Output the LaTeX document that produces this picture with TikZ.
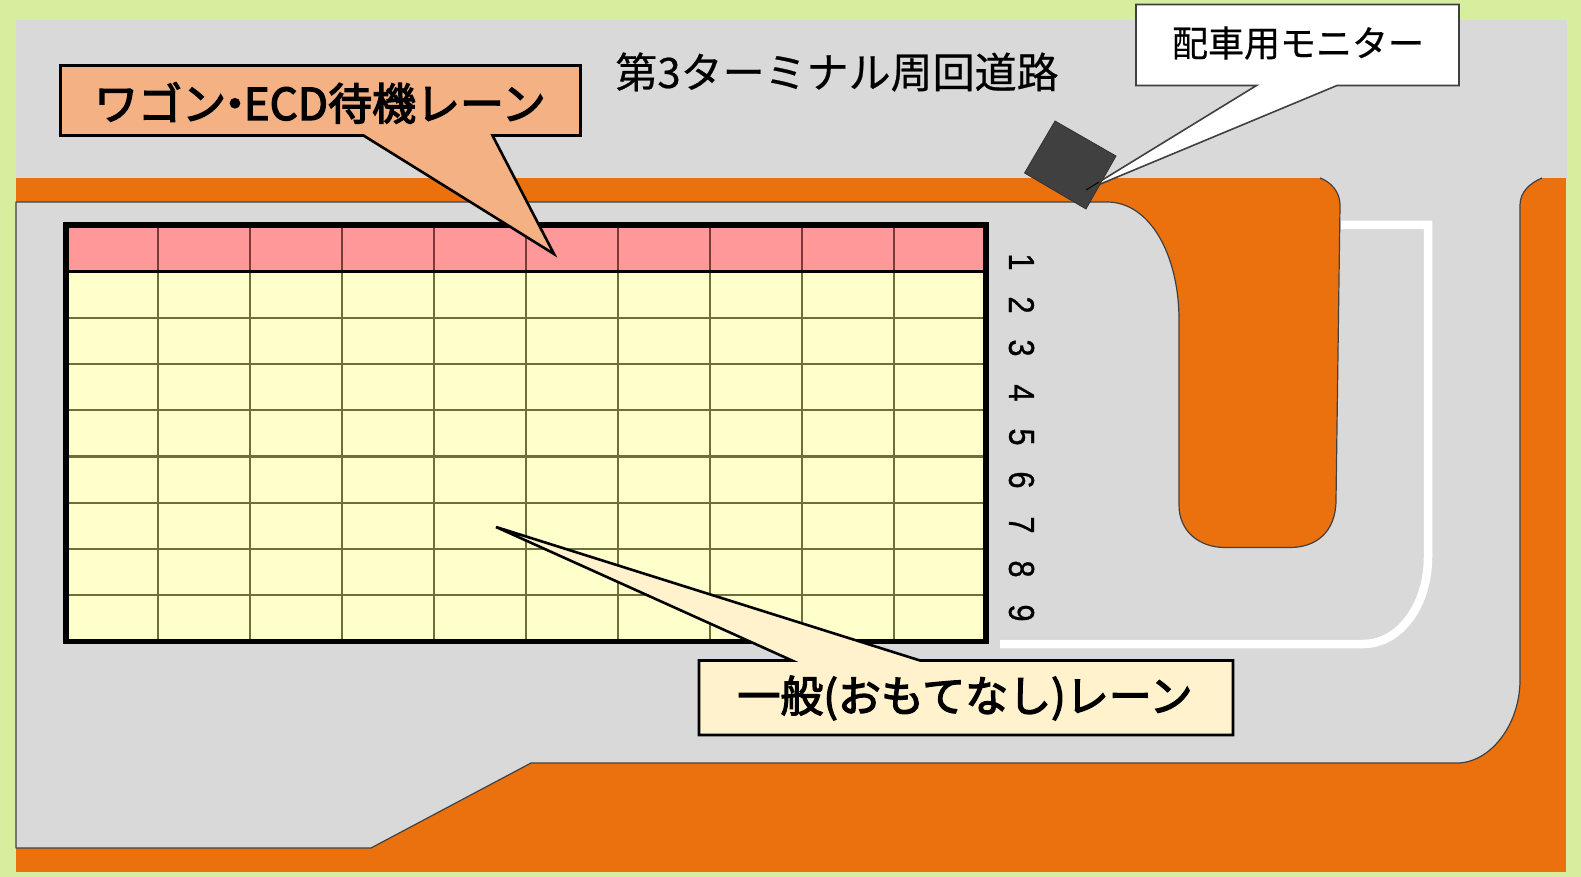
\documentclass[tikz,border=0pt]{standalone}
\usepackage{fontspec}
\newfontfamily\jpfont[FakeBold=0.5]{Noto Sans CJK JP}
\newfontfamily\jpbold[FakeBold=3]{Noto Sans CJK JP}
\newfontfamily\digitfont[FakeBold=0.8]{Liberation Sans}
\definecolor{bggreen}{HTML}{D8EE9F}
\definecolor{roadgray}{HTML}{D9D9D9}
\definecolor{curborange}{HTML}{EB700E}
\definecolor{edgegray}{HTML}{404040}
\definecolor{calloutorange}{HTML}{F4B183}
\definecolor{calloutcream}{HTML}{FFF2CC}
\definecolor{cellyellow}{HTML}{FFFFCC}
\definecolor{cellred}{HTML}{FF9999}
\definecolor{gridyellow}{HTML}{6E6E3C}
\definecolor{gridred}{HTML}{7A3A3A}
\tikzset{
  road edge/.style={draw=edgegray,line width=1.2pt},
  lane mark/.style={draw=white,line width=8.5pt},
  callout bold/.style={draw=black,line width=2.6pt,line join=miter,miter limit=8},
  callout thin/.style={draw=edgegray,line width=1.6pt,line join=miter},
  label bold/.style={inner sep=0pt,font=\jpbold\fontsize{#1}{#1}\selectfont,text=black},
  label plain/.style={inner sep=0pt,font=\jpfont\fontsize{#1}{#1}\selectfont,text=black},
  rownum/.style={inner sep=0pt,rotate=-90,text=black,font=\digitfont\fontsize{36}{36}\selectfont},
}
\newcommand{\rowdigit}[1]{\scalebox{0.86}[1]{#1}}
\begin{document}
\begin{tikzpicture}[x=1pt,y=-1pt]
\useasboundingbox (0,0) rectangle (1581,877);
% ground
\fill[bggreen] (0,0) rectangle (1581,877);
\fill[roadgray] (16,20) rectangle (1567,180);
\fill[curborange] (16,178) rectangle (1566,872);
% road surface
\fill[roadgray] (16,202) -- (1107,202)
  .. controls (1150,202) and (1179,255) .. (1179,320)
  -- (1179,505)
  .. controls (1179,532) and (1200,547.5) .. (1225,547.5)
  -- (1290,547.5)
  .. controls (1316,547.5) and (1336,532) .. (1336,500)
  -- (1340,205)
  .. controls (1340,192) and (1331,182) .. (1320,178)
  -- (1542,178)
  .. controls (1530,183) and (1520,192) .. (1520,205)
  -- (1520,680)
  .. controls (1520,725) and (1490,763) .. (1457,763)
  -- (531,763) -- (371,848) -- (16,848) -- cycle;
\draw[road edge,line join=round] (1320,178)
  .. controls (1331,182) and (1340,192) .. (1340,205)
  -- (1336,500)
  .. controls (1336,532) and (1316,547.5) .. (1290,547.5)
  -- (1225,547.5)
  .. controls (1200,547.5) and (1179,532) .. (1179,505)
  -- (1179,320)
  .. controls (1179,255) and (1150,202) .. (1107,202)
  -- (16,202) -- (16,848) -- (371,848) -- (531,763) -- (1457,763)
  .. controls (1490,763) and (1520,725) .. (1520,680)
  -- (1520,205)
  .. controls (1520,192) and (1530,183) .. (1542,178);
% white lane marking
\draw[lane mark] (1341,225) -- (1428,225) -- (1428,557)
  .. controls (1428,605) and (1400,644) .. (1363,644) -- (1000,644);
% lane grid
\fill[cellred] (66,225) rectangle (986,271.5);
\fill[cellyellow] (66,271.5) rectangle (986,641.5);
\foreach \k in {1,...,9}{
  \draw[gridred,line width=2.2pt] ({66+92*\k},225) -- ({66+92*\k},271.5);
  \draw[gridyellow,line width=2.2pt] ({66+92*\k},271.5) -- ({66+92*\k},641.5);
}
\foreach \k in {1,...,7}{
  \draw[gridyellow,line width=2.2pt] (66,{271.5+46.25*\k}) -- (986,{271.5+46.25*\k});
}
\draw[black,line width=2.6pt] (66,271.5) -- (986,271.5);
\draw[black,line width=5.5pt] (66,225) rectangle (986,641.5);
% row numbers
\node[rownum] (n1) at (1021.5,262) {\rowdigit{1}};
\node[rownum] (n2) at (1021.5,305) {\rowdigit{2}};
\node[rownum] (n3) at (1021.5,348) {\rowdigit{3}};
\node[rownum] (n4) at (1021.5,393) {\rowdigit{4}};
\node[rownum] (n5) at (1021.5,437) {\rowdigit{5}};
\node[rownum] (n6) at (1021.5,480) {\rowdigit{6}};
\node[rownum] (n7) at (1021.5,525) {\rowdigit{7}};
\node[rownum] (n8) at (1021.5,569) {\rowdigit{8}};
\node[rownum] (n9) at (1021.5,613) {\rowdigit{9}};
% title
\node[label plain=42] (title) at (837,72) {第3ターミナル周回道路};
% monitor callout, with the monitor over its tip
\filldraw[fill=white,callout thin] (1136,4.5) -- (1459,4.5) -- (1459,85.5) -- (1337,85.5)
  -- (1086,190) -- (1256.5,85.5) -- (1136,85.5) -- cycle;
\filldraw[fill=edgegray,draw=black!80,line width=0.8pt] (1055,121) -- (1116,156) -- (1086,209) -- (1024.5,173) -- cycle;
\draw[black,line width=0.9pt] (1086,190) -- (1099,182);
\node[label plain=36] (monitor) at (1298,43) {配車用モニター};
% waiting lane callout
\filldraw[fill=calloutorange,callout bold] (60.5,65.5) -- (580.5,65.5) -- (580.5,135.5) -- (492.5,135.5)
  -- (554,254) -- (363.5,135.5) -- (60.5,135.5) -- cycle;
\node[label bold=44] (wagon) at (320,103) {ワゴン\kern-0.3em・\kern-0.3emECD待機レーン};
% general lane callout
\filldraw[fill=calloutcream,callout bold] (699,660.5) -- (792,660.5) -- (496,527) -- (920,660.5)
  -- (1233,660.5) -- (1233,735) -- (699,735) -- cycle;
\node[label bold=43] (general) at (965,698) {一般(おもてなし)レーン};
\end{tikzpicture}
\end{document}
